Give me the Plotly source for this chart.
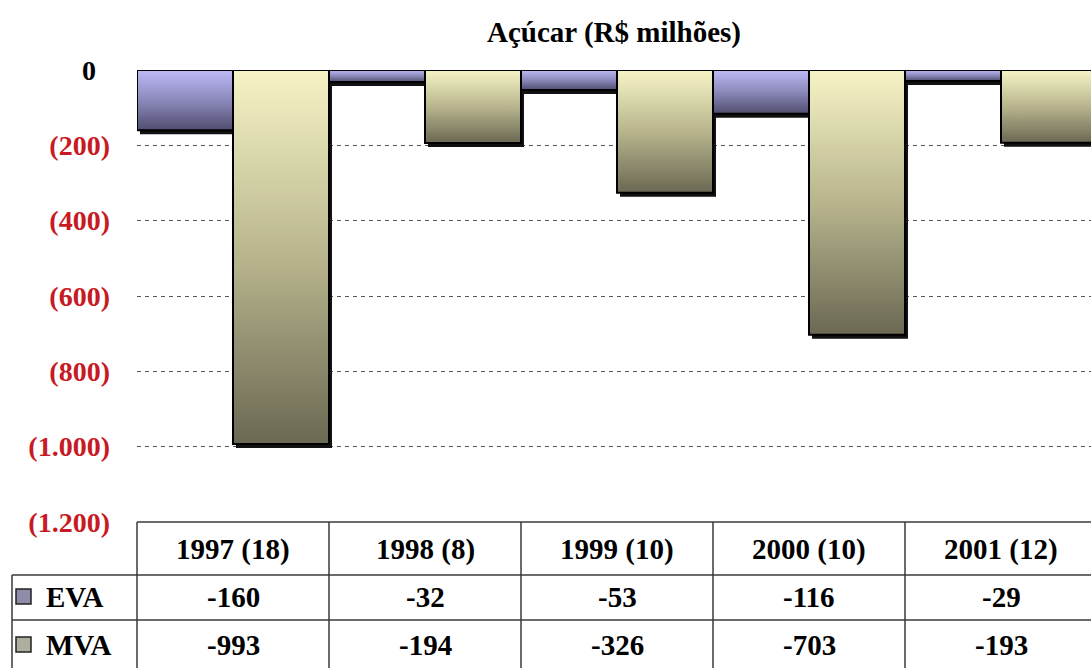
import plotly.graph_objects as go

# ---- data ----
categories = ["1997 (18)", "1998 (8)", "1999 (10)", "2000 (10)", "2001 (12)"]
eva = [-160, -32, -53, -116, -29]
mva = [-993, -194, -326, -703, -193]
series_names = ["EVA", "MVA"]
y_tickvals = [0, -200, -400, -600, -800, -1000, -1200]
y_ticklabels = ["0", "(200)", "(400)", "(600)", "(800)", "(1.000)", "(1.200)"]
title_text = "Açúcar (R$ milhões)"

# ---- layout constants ----
W, H = 1091, 668
ML, MT, MB = 137, 70, 146
PW = W - ML
PH = H - MT - MB
COLW = 192.0
XMAX = PW / COLW
FONT = "Liberation Serif, Times New Roman, serif"
RED = "#c81a24"
TFS = 29

eva_scale = [[0, "#4f4d6e"], [0.5, "#8c89bb"], [1, "#bebaf6"]]
mva_scale = [[0, "#6b6853"], [0.5, "#b8b58e"], [1, "#f6f4c6"]]

fig = go.Figure()

# shadows first
sdx = 3 / COLW
sdy = 4 * 1200 / PH
for i in range(len(categories)):
    for j, vals in enumerate([eva, mva]):
        x0 = i + 0.5 * j
        x1 = x0 + 0.5
        v = vals[i]
        fig.add_trace(go.Scatter(
            x=[x0 + sdx, x0 + sdx, x1 + sdx, x1 + sdx, x0 + sdx],
            y=[0, v - sdy, v - sdy, 0, 0],
            fill="toself", fillcolor="#111111", mode="lines",
            line=dict(color="#111111", width=0), hoverinfo="skip", showlegend=False))

# bars with vertical gradient
for i in range(len(categories)):
    for j, vals in enumerate([eva, mva]):
        x0 = i + 0.5 * j
        x1 = x0 + 0.5
        v = vals[i]
        fig.add_trace(go.Scatter(
            x=[x0, x0, x1, x1, x0], y=[0, v, v, 0, 0],
            fill="toself", mode="lines",
            fillgradient=dict(type="vertical",
                              colorscale=eva_scale if j == 0 else mva_scale),
            line=dict(color="#000000", width=2),
            name=series_names[j], hoverinfo="skip", showlegend=False))

ticktext = []
for t in y_ticklabels:
    if t == "0":
        ticktext.append("<span style='color:#000000'>0</span>\u2002")
    else:
        ticktext.append(t)

fig.update_layout(
    width=W, height=H,
    margin=dict(l=ML, r=0, t=MT, b=MB, autoexpand=False),
    paper_bgcolor="white", plot_bgcolor="white",
    title=dict(text="<b>" + title_text + "</b>", x=0.5, xref="paper",
               y=1 - 32 / H, yref="container", xanchor="center", yanchor="middle",
               font=dict(family=FONT, size=29, color="#000000")),
    xaxis=dict(range=[0, XMAX], showgrid=False, zeroline=False, showticklabels=False,
               showline=False, fixedrange=True),
    yaxis=dict(range=[-1200, 0], tickvals=y_tickvals, ticktext=ticktext,
               showgrid=True, gridcolor="#555555", gridwidth=1, griddash="4px,4px",
               zeroline=False, showline=False, ticks="", automargin=False,
               ticklabelstandoff=26,
               tickfont=dict(family=FONT, size=28, color=RED, weight="bold")),
    showlegend=False,
)

# ---- data table below chart ----
def py(px):
    return (H - MB - px) / PH

def pxx(px):
    return (px - ML) / PW

LC = "#3a3a3a"
LW = 1.5
y_top, y_h, y_r1, y_bot = py(522), py(575), py(620), py(668)
x_left = pxx(12)
shapes = []
shapes.append(dict(type="line", xref="paper", yref="paper", x0=0, x1=1, y0=y_top, y1=y_top,
                   line=dict(color=LC, width=LW)))
for yy in [y_h, y_r1]:
    shapes.append(dict(type="line", xref="paper", yref="paper", x0=x_left, x1=1, y0=yy, y1=yy,
                       line=dict(color=LC, width=LW)))
for i in range(len(categories) + 1):
    xp = i / XMAX
    if xp <= 1:
        shapes.append(dict(type="line", xref="paper", yref="paper", x0=xp, x1=xp,
                           y0=y_top, y1=y_bot, line=dict(color=LC, width=LW)))
shapes.append(dict(type="line", xref="paper", yref="paper", x0=x_left, x1=x_left,
                   y0=y_h, y1=y_bot, line=dict(color=LC, width=LW)))
icon_fill = ["#8e8ca8", "#aeae9e"]
row_centers = [597, 645]
for k in range(2):
    c = row_centers[k]
    shapes.append(dict(type="rect", xref="paper", yref="paper",
                       x0=pxx(16), x1=pxx(31), y0=py(c - 8), y1=py(c + 7),
                       fillcolor=icon_fill[k], line=dict(color="#222222", width=1.5)))

annotations = []
for i, cat in enumerate(categories):
    annotations.append(dict(x=i + 0.5, xref="x", y=py(549), yref="paper", text="<b>%s</b>" % cat,
                            showarrow=False, xanchor="center", yanchor="middle",
                            font=dict(family=FONT, size=TFS, color="#000000")))
    for k, vals in enumerate([eva, mva]):
        annotations.append(dict(x=i + 0.5, xref="x", y=py(row_centers[k]), yref="paper",
                                text="<b>%d</b>" % vals[i], showarrow=False,
                                xanchor="center", yanchor="middle",
                                font=dict(family=FONT, size=TFS, color="#000000")))
for k, nm in enumerate(series_names):
    annotations.append(dict(x=pxx(44), xref="paper", y=py(row_centers[k]), yref="paper",
                            text="<b>%s</b>" % nm, showarrow=False, xanchor="left",
                            yanchor="middle",
                            font=dict(family=FONT, size=TFS, color="#000000")))

fig.update_layout(shapes=shapes, annotations=annotations)

fig.write_html("out.html", config={"displayModeBar": False},
               post_script="document.body.style.margin='0';")
